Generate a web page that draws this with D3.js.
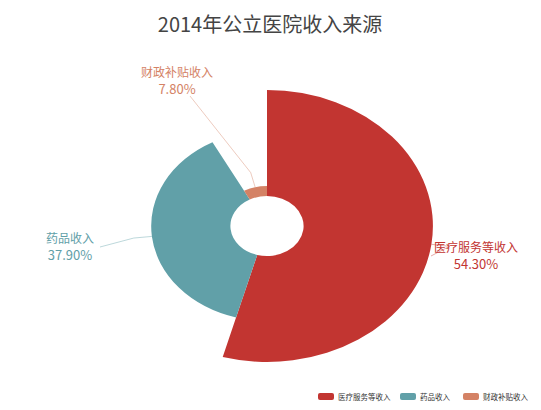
<!DOCTYPE html>
<html><head><meta charset="utf-8">
<script src="https://cdn.jsdelivr.net/npm/d3@7"></script>
<style>body{margin:0;background:#fff;font-family:"Noto Sans CJK SC",sans-serif}</style>
</head><body><div id="chart"></div>
<script>
const categories = ['医疗服务等收入', '药品收入', '财政补贴收入'];
const values = [54.30, 37.90, 7.80];
const colors = ['#c23531', '#61a0a8', '#d48265'];
const labelTexts = ['54.30%', '37.90%', '7.80%'];

const width = 541, height = 410, cx = 267, cy = 226;
const inner = 30, outer = 136, sx = 1.22;
const svg = d3.select('#chart').append('svg').attr('width', width).attr('height', height);

svg.append('text').text('2014年公立医院收入来源').attr('x', 270).attr('y', 32)
  .attr('text-anchor', 'middle').attr('font-size', 20).attr('fill', '#444');

const rScale = d3.scaleLinear().domain([0, d3.max(values)]).range([0, outer]);
const radius = v => Math.max(rScale(v), inner + 10);
const pie = d3.pie().sort(null)(values);
const g = svg.append('g').attr('transform', `translate(${cx},${cy}) scale(${sx},1)`);

g.selectAll('path').data(pie).enter().append('path')
  .attr('d', d => d3.arc().innerRadius(inner).outerRadius(radius(d.data))(d))
  .attr('fill', (d, i) => colors[i]);

const labels = [[476, 252], [70, 243], [177, 77]];
const ends = [[431, 256], [100, 247], [190, 96]];
pie.forEach((d, i) => {
  const a = (d.startAngle + d.endAngle) / 2;
  const r = radius(d.data);
  const p0 = [cx + Math.sin(a) * r * sx, cy - Math.cos(a) * r];
  const p1 = [cx + Math.sin(a) * (r + 15) * sx, cy - Math.cos(a) * (r + 15)];
  const lp = labels[i];
  svg.append('polyline').attr('points', [p0, p1, ends[i]].map(p => p.join(',')).join(' '))
    .attr('fill', 'none').attr('stroke', colors[i]).attr('stroke-width', 0.6).attr('opacity', 0.7);
  svg.append('text').text(categories[i]).attr('x', lp[0]).attr('y', lp[1])
    .attr('text-anchor', 'middle').attr('font-size', 12).attr('fill', colors[i]);
  svg.append('text').text(labelTexts[i]).attr('x', lp[0]).attr('y', lp[1] + 17)
    .attr('text-anchor', 'middle').attr('font-size', 13).attr('fill', colors[i]);
});

const legendX = [318, 400, 463];
categories.forEach((c, i) => {
  svg.append('rect').attr('x', legendX[i]).attr('y', 393).attr('width', 16).attr('height', 7)
    .attr('rx', 2).attr('fill', colors[i]);
  svg.append('text').text(c).attr('x', legendX[i] + 20).attr('y', 400)
    .attr('font-size', 7.5).attr('fill', '#333');
});
</script></body></html>
